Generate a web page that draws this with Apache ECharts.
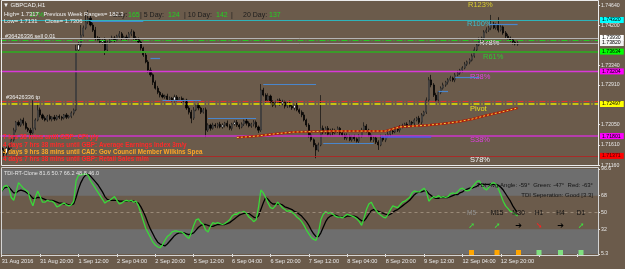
<!DOCTYPE html>
<html>
<head>
<meta charset="utf-8">
<script src="https://cdn.jsdelivr.net/npm/echarts@6/dist/echarts.min.js"></script>
<style>
  html, body { margin: 0; padding: 0; background: #6b5b4b; }
  #chart { width: 625px; height: 269px; }
</style>
</head>
<body>
<div id="chart"></div>
<script>
// GBPCAD H1, prices kept in pips above 1.7100
const BASE = 1.71;
const SLOTS = 249; // bar slots incl. empty space on the right

const xLabels = ['31 Aug 2016', '31 Aug 20:00', '1 Sep 12:00', '2 Sep 04:00', '2 Sep 20:00',
  '5 Sep 12:00', '6 Sep 04:00', '6 Sep 20:00', '7 Sep 12:00', '8 Sep 04:00', '8 Sep 20:00',
  '9 Sep 12:00', '12 Sep 04:00', '12 Sep 20:00'];

const firstOpen = 55;
const closePips = [
  50, 43, 54, 50, 72, 93, 110, 104, 115, 108,
  97, 93, 87, 97, 115, 137, 126, 119, 115, 123,
  117, 121, 117, 123, 121, 119, 126, 121, 123, 130,
  137, 267, 278, 299, 315, 328, 336, 321, 310, 293,
  289, 284, 289, 267, 284, 289, 293, 289, 297, 302,
  293, 295, 293, 302, 306, 293, 289, 284, 271, 256,
  241, 223, 213, 197, 184, 175, 169, 165, 167, 160,
  162, 158, 165, 158, 162, 156, 158, 141, 132, 119,
  137, 147, 141, 132, 137, 93, 104, 97, 104, 102,
  106, 100, 104, 108, 102, 97, 106, 110, 104, 100,
  106, 113, 108, 102, 106, 110, 100, 93, 180, 169,
  158, 167, 154, 147, 152, 158, 150, 154, 145, 152,
  145, 141, 147, 137, 132, 126, 115, 104, 82, 72,
  61, 50, 61, 97, 89, 97, 84, 93, 87, 91,
  97, 87, 82, 76, 80, 72, 78, 74, 69, 80,
  93, 102, 93, 82, 72, 76, 67, 61, 78, 72,
  80, 84, 91, 89, 95, 93, 100, 102, 106, 104,
  110, 108, 115, 119, 110, 126, 132, 158, 202, 191,
  169, 158, 175, 184, 191, 197, 202, 206, 202, 213,
  217, 223, 228, 236, 241, 245, 254, 267, 278, 289,
  293, 306, 310, 315, 323, 315, 321, 310, 317, 304,
  297, 293, 289, 284, 280, 282
];
// wick lengths beyond the body, pips
const upWick = [
  5, 4, 3, 6, 4, 5, 3, 4, 3, 5,
  4, 3, 5, 61, 4, 15, 5, 3, 4, 3,
  4, 2, 5, 3, 4, 3, 2, 4, 3, 4,
  3, 11, 6, 22, 5, 15, 17, 6, 5, 7,
  4, 6, 3, 5, 4, 3, 5, 4, 3, 6,
  4, 3, 5, 4, 6, 3, 4, 5, 4, 3,
  5, 4, 6, 3, 4, 5, 3, 4, 3, 5,
  4, 3, 5, 4, 3, 4, 5, 3, 4, 5,
  6, 4, 5, 3, 4, 5, 4, 3, 5, 4,
  3, 5, 4, 3, 6, 4, 3, 4, 5, 3,
  4, 3, 5, 4, 3, 5, 4, 3, 13, 5,
  4, 6, 3, 4, 5, 3, 4, 5, 3, 4,
  5, 3, 4, 5, 3, 4, 6, 3, 4, 5,
  3, 4, 5, 72, 6, 4, 5, 3, 4, 5,
  4, 3, 5, 4, 6, 3, 4, 5, 3, 4,
  5, 8, 4, 3, 5, 4, 3, 4, 5, 3,
  4, 5, 3, 4, 5, 3, 4, 5, 3, 4,
  5, 3, 4, 3, 5, 4, 3, 6, 6, 11,
  4, 5, 3, 4, 5, 3, 4, 5, 3, 4,
  5, 3, 4, 5, 3, 4, 5, 6, 4, 5,
  3, 4, 6, 4, 20, 5, 4, 17, 5, 3,
  4, 5, 3, 4, 3, 4
];
const dnWick = [
  4, 8, 5, 6, 3, 4, 5, 3, 4, 5,
  3, 4, 5, 3, 4, 3, 5, 4, 3, 4,
  3, 5, 4, 3, 4, 5, 3, 4, 3, 4,
  5, 3, 4, 5, 3, 4, 5, 3, 4, 5,
  3, 4, 5, 11, 4, 3, 4, 5, 3, 4,
  5, 3, 4, 3, 5, 4, 3, 4, 5, 4,
  3, 5, 4, 6, 3, 4, 5, 3, 4, 5,
  3, 4, 5, 3, 4, 5, 3, 4, 5, 11,
  4, 3, 5, 4, 3, 15, 4, 5, 3, 4,
  5, 3, 4, 5, 3, 4, 5, 3, 4, 5,
  3, 4, 5, 3, 4, 5, 3, 6, 4, 3,
  5, 4, 3, 4, 5, 3, 4, 3, 5, 4,
  3, 4, 5, 3, 4, 5, 3, 4, 5, 4,
  5, 18, 4, 3, 5, 4, 3, 4, 5, 3,
  4, 5, 3, 4, 5, 3, 4, 5, 3, 4,
  3, 4, 5, 3, 4, 5, 4, 11, 3, 4,
  5, 3, 4, 5, 3, 4, 5, 3, 4, 5,
  3, 4, 5, 3, 4, 5, 3, 4, 3, 5,
  4, 3, 5, 4, 3, 4, 5, 3, 4, 5,
  3, 4, 5, 3, 4, 5, 3, 4, 5, 3,
  4, 5, 3, 4, 5, 3, 4, 5, 3, 4,
  5, 3, 4, 5, 3, 4
];

// moving average, read at a few bars
const maIdx = [98, 106, 114, 122, 130, 138, 146, 154, 160, 166, 172, 178, 184, 190, 196, 202, 208, 215];
const maPips = [77, 80, 85, 89, 90, 91, 91, 91, 91, 100, 102, 104, 107, 111, 117, 125, 132, 141];

// short blue levels: [from bar, to bar, pips]
const blueSegs = [[37, 59, 330], [62, 66, 249], [67, 83, 158], [86, 106, 119], [109, 131, 193],
  [134, 155, 65], [158, 179, 78], [182, 186, 177], [189, 199, 208], [203, 215, 323]];

const levelPrices = [1.7432, 1.7393, 1.73886, 1.7382, 1.73634, 1.73204, 1.72551, 1.72497, 1.71801, 1.71371];
const priceTicks = [1.7464, 1.742, 1.7334, 1.7291, 1.7205, 1.7161, 1.7116];

// TDI
const tdiGreen = [
  73, 78, 79, 76, 66, 63, 72, 82, 79, 76,
  74, 72, 63, 57, 66, 73, 67, 61, 61, 63,
  62, 62, 60, 56, 57, 59, 60, 58, 57, 58,
  62, 84, 90, 90, 91, 91, 90, 84, 80, 76,
  72, 68, 64, 60, 62, 63, 65, 67, 63, 59,
  60, 62, 63, 62, 63, 61, 62, 57, 49, 41,
  33, 28, 23, 18, 15, 13, 12, 15, 20, 24,
  26, 29, 30, 30, 29, 29, 27, 24, 22, 28,
  36, 42, 43, 39, 37, 31, 29, 35, 39, 38,
  39, 38, 37, 38, 40, 42, 46, 48, 48, 50,
  50, 51, 49, 45, 43, 40, 42, 55, 74, 71,
  66, 60, 55, 54, 57, 61, 58, 55, 53, 51,
  52, 50, 48, 45, 43, 40, 36, 31, 27, 23,
  21, 20, 28, 42, 48, 51, 49, 50, 48, 46,
  45, 45, 44, 46, 48, 47, 46, 45, 43, 40,
  36, 44, 53, 59, 61, 56, 52, 49, 47, 45,
  44, 48, 53, 57, 56, 55, 58, 61, 62, 64,
  66, 71, 73, 72, 72, 74, 76, 72, 62, 65,
  67, 66, 68, 66, 67, 66, 67, 70, 71, 70,
  72, 75, 76, 74, 73, 74, 77, 80, 83, 84,
  80, 76, 74, 77, 81, 82, 80, 75, 69, 62,
  57, 54, 51, 50, 48, 46
];
const tdiBlack = [
  73, 76, 77, 77, 74, 71, 71, 73, 74, 73,
  72, 70, 68, 65, 65, 66, 66, 65, 64, 63,
  63, 63, 62, 61, 60, 60, 59, 59, 58, 58,
  59, 66, 75, 82, 87, 90, 91, 89, 86, 83,
  80, 76, 72, 67, 64, 63, 63, 63, 63, 62,
  62, 62, 62, 62, 62, 62, 61, 60, 56, 51,
  45, 38, 32, 27, 22, 18, 16, 15, 14, 16,
  19, 22, 25, 27, 28, 28, 28, 27, 26, 27,
  28, 31, 34, 36, 37, 37, 36, 35, 35, 36,
  37, 37, 37, 37, 38, 39, 41, 43, 45, 47,
  48, 49, 49, 49, 47, 45, 44, 46, 53, 60,
  66, 64, 61, 59, 59, 59, 59, 58, 56, 55,
  54, 53, 51, 50, 48, 46, 43, 40, 36, 31,
  27, 24, 24, 28, 34, 40, 44, 46, 47, 47,
  46, 45, 45, 45, 46, 46, 46, 46, 45, 43,
  41, 41, 44, 48, 52, 53, 52, 51, 50, 49,
  48, 47, 48, 50, 52, 53, 55, 57, 59, 61,
  63, 66, 69, 71, 72, 72, 73, 73, 70, 68,
  66, 65, 65, 66, 66, 66, 66, 67, 68, 69,
  69, 71, 72, 74, 75, 76, 76, 77, 78, 80,
  80, 80, 80, 80, 80, 80, 80, 79, 77, 74,
  70, 66, 62, 57, 53, 49
];
const tdiTicks = [96.6, 68, 50, 32, 5.3];
const timeframes = ['M5', 'M15', 'M30', 'H1', 'H4', 'D1'];
const tfTrend = ['up', 'up', 'flat', 'down', 'flat', 'up'];
const tfSignal = ['sell', 'sell', 'sell', 'buy', 'buy', 'buy'];

const FONT = '"Liberation Sans", Arial, sans-serif';
const px = (p) => +(BASE + p / 10000).toFixed(5);
const slots = Array.from({ length: SLOTS }, (_, i) => String(i));

const candles = closePips.map((c, i) => {
  const o = i === 0 ? firstOpen : closePips[i - 1];
  return [px(o), px(c), px(Math.min(o, c) - dnWick[i]), px(Math.max(o, c) + upWick[i])];
});
const maLine = new Array(SLOTS).fill(null);
maIdx.forEach((b, k) => { maLine[b] = px(maPips[k]); });

const levelStyle = [
  { c: '#2fb4bc', w: 1.2, t: 'solid', bg: '#00ffff', fg: '#000' },
  { c: '#b4b4b4', w: 1, t: 'solid', bg: '#ffffff', fg: '#000' },
  { c: '#22cc22', w: 1, t: [6, 2, 1, 2], bg: null },
  { c: '#a8a8a8', w: 1, t: 'solid', bg: '#f2f2f2', fg: '#000' },
  { c: '#3c9a2a', w: 2, t: 'solid', bg: '#00ff00', fg: '#000' },
  { c: '#d838d8', w: 1.3, t: 'solid', bg: '#ff00ff', fg: '#000' },
  { c: '#e03030', w: 1, t: [6, 2, 1, 2], bg: null },
  { c: '#e6e600', w: 1.5, t: [6, 2, 1, 2], bg: '#ffff00', fg: '#000' },
  { c: '#cc33cc', w: 1.5, t: 'solid', bg: '#ff00ff', fg: '#000' },
  { c: '#b82020', w: 0.8, t: 'solid', bg: '#ff0000', fg: '#400' }
];

const levelLines = levelPrices.map((p, i) => {
  const s = levelStyle[i];
  return {
    yAxis: p,
    lineStyle: { color: s.c, width: s.w, type: s.t },
    label: s.bg ? {
      show: true, position: 'end', formatter: p.toFixed(5), distance: 2,
      backgroundColor: s.bg, color: s.fg, fontSize: 5.2, fontFamily: FONT,
      padding: [1, 3, 0, 2]
    } : { show: false }
  };
});
const segLines = blueSegs.map((s, i) => [
  { coord: [s[0], px(s[2])], lineStyle: { color: i === 6 ? '#5656ee' : '#4a86cc', width: i === 6 ? 1.6 : 1.2, type: 'solid' } },
  { coord: [s[1], px(s[2])] }
]);

function txt(x, y, text, fill, size, opts = {}) {
  const align = opts.align || 'left';
  return {
    type: 'text', z: opts.z === undefined ? 100 : opts.z, silent: true,
    style: {
      x, y, text, fill,
      font: (opts.bold ? 'bold ' : '') + size + 'px ' + (opts.family || FONT),
      align, verticalAlign: 'middle', textAlign: align, textVerticalAlign: 'middle'
    }
  };
}

const tfX = [471.5, 497, 518.5, 539, 560.5, 581];
const arrowGlyph = { up: '➚', flat: '➔', down: '➘' };
const arrowColor = { up: '#3ee03e', flat: '#000000', down: '#ff2020' };
const signalColor = { sell: '#ffa500', buy: '#80e080' };

const graphics = [
  { type: 'rect', z: 50, silent: true, shape: { x: 1.5, y: 0.5, width: 597, height: 165 },
    style: { fill: 'none', stroke: '#ececec', lineWidth: 1 } },
  { type: 'rect', z: 50, silent: true, shape: { x: 1.5, y: 167.5, width: 597, height: 88 },
    style: { fill: 'none', stroke: '#d4d4d4', lineWidth: 1 } },

  // header
  txt(3, 5, '▼ GBPCAD,H1', '#f0f0f0', 6),
  txt(30, 15.5, '27%', '#22cc22', 7, { z: 90 }),
  txt(113, 15.5, 'Day:', '#1c1c1c', 7),
  txt(128, 15.5, '165', '#22d022', 7),
  txt(140, 15.5, '| 5 Day:', '#1c1c1c', 7),
  txt(168, 15.5, '124', '#22d022', 7),
  txt(184, 15.5, '| 10 Day:', '#1c1c1c', 7),
  txt(216, 15.5, '142', '#22d022', 7),
  txt(231, 15.5, '|', '#1c1c1c', 7),
  txt(243, 15.5, '20 Day:', '#1c1c1c', 7),
  txt(269, 15.5, '137', '#22d022', 7),
  txt(4, 14, 'High= 1.7317   Previous Week Ranges= 182.3', '#f0f0f0', 5.8),
  txt(4, 21, 'Low= 1.7131', '#f0f0f0', 5.8),
  txt(45, 21, 'Close= 1.7306', '#f0f0f0', 5.8),
  txt(5, 36.5, '#36426336 sell 0.01', '#f0f0f0', 5.6),
  txt(6, 97, '#36426336 tp', '#f0f0f0', 5.6),

  // news countdown
  txt(3, 137.5, '7 hrs 38 mins until GBP: CPI y/y', '#ff2a2a', 6.3, { bold: true }),
  txt(3, 145, '4 days 7 hrs 38 mins until GBP: Average Earnings Index 3m/y', '#ff2a2a', 6.3, { bold: true }),
  txt(3, 152.3, '4 days 9 hrs 38 mins until CAD: Gov Council Member Wilkins Spea', '#ffa628', 6.3, { bold: true }),
  txt(3, 159.3, '4 days 7 hrs 38 mins until GBP: Retail Sales m/m', '#ff2a2a', 6.3, { bold: true }),

  // fib / pivot tags
  txt(468, 5, 'R123%', '#d8cc30', 7.5, { z: 1 }),
  txt(467, 24, 'R100%', '#40b8c8', 7.5, { z: 1 }),
  txt(479, 43, 'R78%', '#e6e6e6', 7.5, { z: 1 }),
  txt(483, 56.5, 'R61%', '#30c830', 7.5, { z: 1 }),
  txt(470, 76.5, 'R38%', '#e040e0', 7.5, { z: 1 }),
  txt(470, 109, 'Pivot', '#e8e020', 7.5, { z: 1 }),
  txt(470, 140, 'S38%', '#e040e0', 7.5, { z: 1 }),
  txt(470, 160, 'S78%', '#f2f2f2', 7.5, { z: 1 }),

  // TDI texts
  txt(4, 173, 'TDI-RT-Clone 81.6 50.7 66.2 48.8 46.0', '#e2e2e2', 5.5),
  txt(593, 185.5, 'TDI Avg Angle: -59°  Green: -47°  Red: -63°', '#141414', 6, { align: 'right' }),
  txt(593, 195.5, 'TDI Seperation: Good [3.3]', '#141414', 6, { align: 'right' })
];
timeframes.forEach((tf, i) => {
  graphics.push(txt(tfX[i], 213, tf, i === 0 ? '#8e8e8e' : '#111111', 6.5, { align: 'center' }));
  graphics.push(txt(tfX[i], 226, arrowGlyph[tfTrend[i]], arrowColor[tfTrend[i]], 8,
    { align: 'center', bold: true, family: '"DejaVu Sans", sans-serif' }));
  graphics.push({ type: 'rect', z: 60, silent: true,
    shape: { x: tfX[i] - 2.5, y: 250, width: 5, height: 5 },
    style: { fill: signalColor[tfSignal[i]] } });
});

const chart = echarts.init(document.getElementById('chart'));
chart.setOption({
  animation: false,
  backgroundColor: '#6b5b4b',
  grid: [
    { left: 0.5, right: 27, top: 1, height: 165, outerBoundsMode: 'none' },
    { left: 0.5, right: 27, top: 169, height: 85, outerBoundsMode: 'none' }
  ],
  xAxis: [
    { type: 'category', data: slots, gridIndex: 0, boundaryGap: true,
      axisLine: { show: false }, axisTick: { show: false }, axisLabel: { show: false }, splitLine: { show: false } },
    { type: 'category', data: slots, gridIndex: 1, boundaryGap: true,
      axisLine: { show: false },
      axisTick: { show: true, interval: 15, alignWithLabel: true, length: 3, lineStyle: { color: '#e6e6e6' } },
      axisLabel: {
        show: true, interval: 15, align: 'left', margin: 4, color: '#e8e8e8', fontSize: 5.6, fontFamily: FONT,
        formatter: (v, idx) => xLabels[idx / 16] || ''
      },
      splitLine: { show: false } }
  ],
  yAxis: [
    { type: 'value', gridIndex: 0, position: 'right', min: 1.71152, max: 1.74732, scale: true,
      splitLine: { show: false }, axisLine: { show: false },
      axisTick: { show: true, length: 2, customValues: priceTicks, lineStyle: { color: '#e6e6e6' } },
      axisLabel: { show: true, customValues: priceTicks, margin: 3, color: '#e8e8e8', fontSize: 5.2,
        fontFamily: FONT, formatter: (v) => v.toFixed(5) } },
    { type: 'value', gridIndex: 1, position: 'right', min: 5.3, max: 96.6,
      splitLine: { show: false }, axisLine: { show: false },
      axisTick: { show: true, length: 2, customValues: tdiTicks, lineStyle: { color: '#e6e6e6' } },
      axisLabel: { show: true, customValues: tdiTicks, margin: 3, color: '#e8e8e8', fontSize: 5.2,
        fontFamily: FONT, formatter: (v) => String(v) } }
  ],
  series: [
    {
      name: 'levels', type: 'line', xAxisIndex: 0, yAxisIndex: 0, z: 1,
      data: new Array(SLOTS).fill(null), showSymbol: false, silent: true,
      markLine: { silent: true, symbol: 'none', precision: 5, animation: false,
        data: levelLines.concat(segLines), label: { show: false } }
    },
    {
      name: 'GBPCAD', type: 'candlestick', xAxisIndex: 0, yAxisIndex: 0, z: 3,
      data: candles, barWidth: 1.6,
      itemStyle: { color: '#ffffff', color0: '#000000', borderColor: '#111111', borderColor0: '#000000', borderWidth: 0.7 }
    },
    {
      name: 'MA', type: 'line', xAxisIndex: 0, yAxisIndex: 0, z: 5, data: maLine, connectNulls: true,
      showSymbol: false, silent: true, lineStyle: { color: '#b01c08', width: 2.2 }
    },
    {
      name: 'MA dots', type: 'line', xAxisIndex: 0, yAxisIndex: 0, z: 6, data: maLine, connectNulls: true,
      showSymbol: false, silent: true, lineStyle: { color: '#f0d040', width: 1, type: [2, 2] }
    },
    {
      name: 'TDI signal', type: 'line', xAxisIndex: 1, yAxisIndex: 1, z: 3, data: tdiBlack,
      showSymbol: false, silent: true, lineStyle: { color: '#000000', width: 1.3 },
      markArea: { silent: true, itemStyle: { color: '#6e6e6e' },
        data: [[{ yAxis: 68 }, { yAxis: 96.6 }], [{ yAxis: 5.3 }, { yAxis: 32 }]] },
      markLine: { silent: true, symbol: 'none', precision: 5, label: { show: false },
        lineStyle: { color: '#9a8a78', type: [3, 3], width: 1 }, data: [{ yAxis: 50 }] }
    },
    {
      name: 'TDI price', type: 'line', xAxisIndex: 1, yAxisIndex: 1, z: 4, data: tdiGreen,
      showSymbol: false, silent: true, lineStyle: { color: '#3ad83a', width: 1.3 }
    }
  ],
  graphic: { elements: graphics }
});
</script>
</body>
</html>
